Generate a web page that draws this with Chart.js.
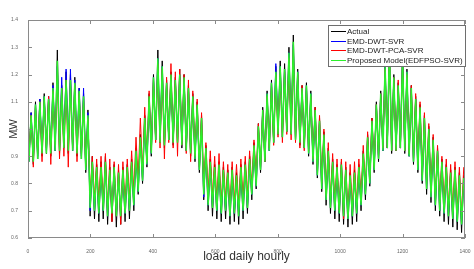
<!DOCTYPE html>
<html>
<head>
<meta charset="utf-8">
<title>load daily hourly</title>
<script src="https://cdn.jsdelivr.net/npm/chart.js@4.4.1/dist/chart.umd.min.js"></script>
<style>
  body { margin: 0; background: #fff; }
  canvas { display: block; }
</style>
</head>
<body>
<canvas id="loadChart" width="474" height="269"></canvas>
<script>
// Series names, in legend order
const seriesNames = ['Actual', 'EMD-DWT-SVR', 'EMD-DWT-PCA-SVR', 'Proposed Model(EDFPSO-SVR)'];

// Load is sampled as a low then a high for every 14-hour cycle (100 cycles over 1400 hours)
const hoursPerCycle = 14;

// Actual load (MW), cycle highs and lows
const actualHigh = [1.06,1.10,1.11,1.13,1.12,1.17,1.29,1.16,1.21,1.20,1.19,1.15,1.13,1.07,
  0.90,0.87,0.88,0.90,0.86,0.87,0.85,0.86,0.87,0.89,
  0.93,0.98,1.05,1.13,1.20,1.29,1.25,1.18,1.21,1.19,1.22,1.20,1.16,1.13,1.10,1.05,
  0.94,0.89,0.87,0.88,0.86,0.85,0.86,0.84,0.87,0.88,0.90,
  0.95,1.02,1.08,1.14,1.18,1.23,1.25,1.24,1.30,1.345,1.22,1.16,1.17,1.14,1.08,1.04,
  0.99,0.93,0.89,0.87,0.88,0.86,0.84,0.85,0.87,
  0.92,0.98,1.04,1.10,1.14,1.25,1.32,1.20,1.17,1.29,1.22,1.16,1.12,1.09,
  1.05,1.01,0.97,0.93,0.89,0.87,0.85,0.86,0.84,0.83];
const actualLow = [0.88,0.87,0.89,0.90,0.91,0.90,0.92,0.91,0.93,0.91,0.92,0.90,0.89,0.84,
  0.68,0.67,0.66,0.67,0.65,0.66,0.64,0.65,0.66,0.67,
  0.70,0.76,0.80,0.86,0.90,0.96,0.95,0.93,0.96,0.94,0.95,0.93,0.92,0.90,0.88,0.84,
  0.74,0.70,0.68,0.67,0.66,0.67,0.65,0.66,0.65,0.67,0.69,
  0.74,0.78,0.84,0.88,0.92,0.95,0.98,0.97,0.99,0.98,0.96,0.94,0.93,0.90,0.87,0.82,
  0.77,0.72,0.69,0.67,0.66,0.65,0.64,0.65,0.66,
  0.70,0.74,0.79,0.84,0.88,0.92,0.93,0.91,0.92,0.93,0.91,0.90,0.87,0.84,
  0.80,0.76,0.73,0.70,0.68,0.66,0.65,0.64,0.63,0.62];

// EMD-DWT-SVR forecast
const svrHigh = [1.06,1.09,1.11,1.12,1.12,1.16,1.23,1.19,1.22,1.22,1.18,1.15,1.15,1.06,
  0.88,0.86,0.86,0.88,0.85,0.86,0.84,0.85,0.86,0.88,
  0.92,0.97,1.04,1.12,1.19,1.26,1.23,1.17,1.20,1.18,1.20,1.19,1.15,1.12,1.09,1.04,
  0.93,0.88,0.86,0.87,0.85,0.84,0.85,0.83,0.86,0.87,0.89,
  0.94,1.01,1.07,1.13,1.17,1.24,1.23,1.22,1.28,1.31,1.21,1.15,1.16,1.13,1.07,1.03,
  0.98,0.92,0.88,0.86,0.87,0.85,0.83,0.84,0.86,
  0.91,0.97,1.03,1.09,1.13,1.23,1.30,1.19,1.16,1.27,1.21,1.15,1.11,1.08,
  1.04,1.00,0.96,0.92,0.88,0.86,0.84,0.85,0.83,0.82];
const svrLow = [0.88,0.88,0.90,0.91,0.92,0.91,0.92,0.92,0.93,0.92,0.92,0.91,0.90,0.85,
  0.70,0.70,0.69,0.70,0.68,0.69,0.68,0.68,0.69,0.70,
  0.72,0.77,0.81,0.87,0.91,0.96,0.95,0.94,0.96,0.95,0.95,0.94,0.92,0.91,0.89,0.85,
  0.75,0.72,0.71,0.70,0.69,0.70,0.68,0.69,0.68,0.70,0.71,
  0.76,0.79,0.85,0.88,0.92,0.95,0.98,0.97,0.99,0.98,0.96,0.95,0.93,0.91,0.88,0.83,
  0.78,0.74,0.71,0.70,0.69,0.68,0.67,0.68,0.69,
  0.72,0.76,0.80,0.85,0.89,0.92,0.93,0.92,0.92,0.93,0.92,0.90,0.88,0.85,
  0.81,0.78,0.75,0.72,0.70,0.69,0.68,0.67,0.66,0.65];

// EMD-DWT-PCA-SVR forecast
const pcaHigh = [1.05,1.08,1.10,1.11,1.12,1.14,1.20,1.15,1.18,1.17,1.16,1.13,1.11,1.04,
  0.90,0.89,0.90,0.91,0.89,0.88,0.87,0.88,0.89,0.92,
  0.97,1.04,1.08,1.14,1.18,1.24,1.22,1.19,1.24,1.21,1.22,1.20,1.18,1.14,1.11,1.06,
  0.95,0.92,0.90,0.91,0.88,0.87,0.88,0.87,0.89,0.90,0.92,
  0.96,1.02,1.07,1.12,1.16,1.20,1.22,1.21,1.26,1.29,1.20,1.16,1.15,1.12,1.08,1.05,
  1.00,0.95,0.91,0.89,0.89,0.88,0.87,0.88,0.89,
  0.94,0.99,1.04,1.09,1.13,1.22,1.28,1.19,1.18,1.25,1.20,1.16,1.13,1.10,
  1.06,1.02,0.98,0.94,0.90,0.89,0.87,0.88,0.86,0.86];
const pcaLow = [0.90,0.86,0.91,0.88,0.93,0.87,0.94,0.89,0.90,0.86,0.93,0.88,0.91,0.86,
  0.76,0.74,0.73,0.72,0.70,0.66,0.68,0.65,0.72,0.74,
  0.77,0.81,0.84,0.88,0.92,0.95,0.93,0.89,0.95,0.93,0.90,0.94,0.91,0.88,0.90,0.86,
  0.79,0.76,0.75,0.73,0.72,0.74,0.71,0.73,0.72,0.74,0.75,
  0.79,0.82,0.86,0.88,0.93,0.94,0.97,0.95,0.98,0.96,0.95,0.93,0.92,0.92,0.89,0.85,
  0.80,0.76,0.74,0.72,0.70,0.67,0.68,0.71,0.72,
  0.75,0.78,0.82,0.86,0.90,0.93,0.93,0.92,0.92,0.93,0.92,0.91,0.89,0.87,
  0.83,0.80,0.77,0.75,0.73,0.72,0.71,0.70,0.69,0.68];

// Proposed Model(EDFPSO-SVR) forecast
const proposedHigh = [1.05,1.09,1.10,1.12,1.11,1.15,1.25,1.15,1.18,1.18,1.17,1.14,1.12,1.05,
  0.88,0.86,0.86,0.88,0.85,0.86,0.84,0.85,0.86,0.88,
  0.92,0.97,1.04,1.12,1.19,1.26,1.23,1.17,1.20,1.18,1.20,1.19,1.15,1.12,1.09,1.04,
  0.93,0.88,0.86,0.87,0.85,0.84,0.85,0.83,0.86,0.87,0.89,
  0.94,1.01,1.07,1.13,1.17,1.21,1.23,1.22,1.28,1.32,1.21,1.15,1.16,1.13,1.07,1.03,
  0.98,0.92,0.88,0.86,0.87,0.85,0.83,0.84,0.86,
  0.91,0.97,1.03,1.09,1.13,1.23,1.31,1.19,1.16,1.27,1.21,1.15,1.11,1.08,
  1.04,1.00,0.96,0.92,0.88,0.86,0.84,0.85,0.83,0.82];
const proposedLow = [0.88,0.88,0.89,0.91,0.91,0.91,0.92,0.92,0.93,0.92,0.92,0.91,0.89,0.85,
  0.71,0.70,0.69,0.70,0.68,0.69,0.68,0.68,0.69,0.70,
  0.72,0.77,0.81,0.87,0.91,0.96,0.95,0.94,0.96,0.95,0.95,0.94,0.92,0.91,0.89,0.85,
  0.76,0.72,0.71,0.70,0.69,0.70,0.68,0.69,0.68,0.70,0.71,
  0.76,0.79,0.85,0.88,0.92,0.95,0.98,0.97,0.99,0.98,0.96,0.95,0.93,0.91,0.88,0.83,
  0.78,0.74,0.71,0.70,0.69,0.68,0.67,0.68,0.69,
  0.72,0.76,0.80,0.85,0.89,0.92,0.93,0.92,0.92,0.93,0.92,0.90,0.88,0.85,
  0.81,0.78,0.75,0.72,0.70,0.69,0.68,0.67,0.66,0.65];

// Axis ticks
const xTicks = [0, 200, 400, 600, 800, 1000, 1200, 1400];
const yTicks = [0.6, 0.7, 0.8, 0.9, 1.0, 1.1, 1.2, 1.3, 1.4];

const seriesColors = ['#000000', '#0000ff', '#ff0000', '#2cf02c'];
const seriesWidths = [1, 1, 1, 1.5];
const fontFamily = '"Liberation Sans", Arial, sans-serif';

// Turn the low/high lists into {x, y} points, a low and a high per cycle
function toPoints(lows, highs) {
  const pts = [];
  for (let i = 0; i < lows.length; i++) {
    pts.push({ x: i * hoursPerCycle + 3, y: lows[i] });
    pts.push({ x: i * hoursPerCycle + 10, y: highs[i] });
  }
  return pts;
}

const seriesData = [
  toPoints(actualLow, actualHigh),
  toPoints(svrLow, svrHigh),
  toPoints(pcaLow, pcaHigh),
  toPoints(proposedLow, proposedHigh)
];

// Box round the plot, inward ticks and the MATLAB-like legend box
const matlabFrame = {
  id: 'matlabFrame',
  afterDatasetsDraw(chart) {
    const { ctx, chartArea: a, scales } = chart;
    ctx.save();
    ctx.strokeStyle = '#8a8a8a';
    ctx.lineWidth = 1;
    ctx.strokeRect(a.left + 0.5, a.top + 0.5, a.right - a.left - 1, a.bottom - a.top - 1);

    ctx.beginPath();
    xTicks.forEach(v => {
      const px = Math.round(scales.x.getPixelForValue(v)) + 0.5;
      ctx.moveTo(px, a.bottom); ctx.lineTo(px, a.bottom - 4);
      ctx.moveTo(px, a.top); ctx.lineTo(px, a.top + 4);
    });
    yTicks.forEach(v => {
      const py = Math.round(scales.y.getPixelForValue(v)) + 0.5;
      ctx.moveTo(a.left, py); ctx.lineTo(a.left + 4, py);
      ctx.moveTo(a.right, py); ctx.lineTo(a.right - 4, py);
    });
    ctx.stroke();

    // legend
    const bx = 328, by = 25, bw = 138, bh = 42;
    ctx.fillStyle = '#ffffff';
    ctx.fillRect(bx, by, bw, bh);
    ctx.strokeStyle = '#6e6e6e';
    ctx.strokeRect(bx + 0.5, by + 0.5, bw - 1, bh - 1);
    ctx.font = '8px ' + fontFamily;
    ctx.textBaseline = 'middle';
    ctx.textAlign = 'left';
    seriesNames.forEach((name, k) => {
      const y = Math.round(by + 6 + k * 9.7) + 0.5;
      ctx.strokeStyle = seriesColors[k];
      ctx.beginPath();
      ctx.moveTo(bx + 3, y); ctx.lineTo(bx + 18, y);
      ctx.stroke();
      ctx.fillStyle = '#222';
      ctx.fillText(name, bx + 19, y);
    });
    ctx.restore();
  }
};

const ctx = document.getElementById('loadChart').getContext('2d');

new Chart(ctx, {
  type: 'line',
  data: {
    datasets: seriesNames.map((name, k) => ({
      label: name,
      data: seriesData[k],
      borderColor: seriesColors[k],
      backgroundColor: seriesColors[k],
      borderWidth: seriesWidths[k],
      pointRadius: 0,
      tension: 0,
      order: 4 - k // later series sit on top, like MATLAB's plot order
    }))
  },
  options: {
    responsive: false,
    animation: false,
    devicePixelRatio: 1,
    layout: { padding: { top: 20, right: 9, left: 0, bottom: 0 } },
    plugins: {
      legend: { display: false },
      tooltip: { enabled: false }
    },
    scales: {
      x: {
        type: 'linear',
        min: 0,
        max: 1400,
        afterBuildTicks: s => { s.ticks = xTicks.map(v => ({ value: v })); },
        afterFit: s => { s.height = 31; },
        grid: { display: false },
        border: { display: false },
        ticks: {
          autoSkip: false,
          maxRotation: 0,
          padding: 3,
          color: '#666',
          font: { family: fontFamily, size: 5 },
          callback: v => String(v)
        },
        title: {
          display: true,
          text: 'load daily hourly',
          color: '#333',
          font: { family: fontFamily, size: 12 },
          padding: { top: 0, bottom: 5 }
        }
      },
      y: {
        min: 0.6,
        max: 1.4,
        afterBuildTicks: s => { s.ticks = yTicks.map(v => ({ value: v })); },
        afterFit: s => { s.width = 28; },
        grid: { display: false },
        border: { display: false },
        ticks: {
          padding: 2,
          color: '#666',
          font: { family: fontFamily, size: 5 },
          callback: v => String(+v.toFixed(1))
        },
        title: {
          display: true,
          text: 'MW',
          color: '#333',
          font: { family: fontFamily, size: 11 },
          padding: { top: 7, bottom: 0 }
        }
      }
    }
  },
  plugins: [matlabFrame]
});
</script>
</body>
</html>
